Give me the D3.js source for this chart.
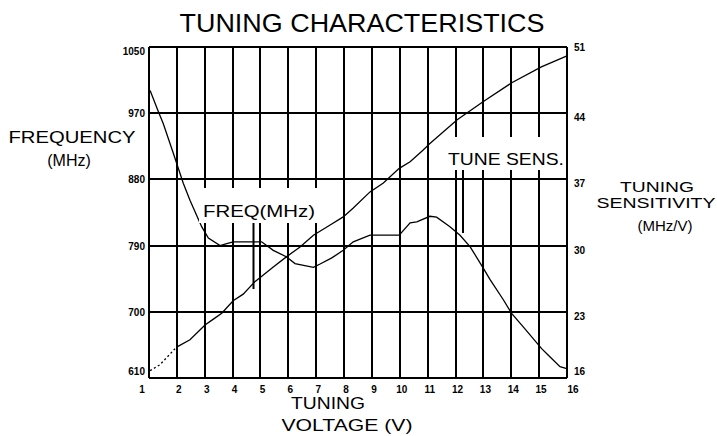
<!DOCTYPE html>
<html>
<head>
<meta charset="utf-8">
<script src="https://cdn.jsdelivr.net/npm/d3@7"></script>
<style>
  body { margin: 0; background: #fff; }
  svg { display: block; font-family: "Liberation Sans", Arial, sans-serif; }
  .grid line, .grid path { stroke: #000; stroke-width: 2; shape-rendering: crispEdges; }
  .tick-lbl { font-size: 10px; font-weight: bold; fill: #000; }
  .curve { fill: none; stroke: #000; stroke-width: 1.3; }
</style>
</head>
<body>
<svg id="chart" width="717" height="436"></svg>
<script>
// ---- data ----
const voltTicks = [1,2,3,4,5,6,7,8,9,10,11,12,13,14,15,16];
const freqTicks = [610,700,790,880,970,1060];
const freqTickLabels = ["610","700","790","880","970","1050"];
const sensTicks = [16,23,30,37,44,51];

// frequency (MHz) vs tuning voltage
const freqV = [1.04,1.39,1.99,2.47,3.01,3.31,3.61,4.02,4.38,4.80,5.46,5.94,6.42,6.90,7.50,7.97,8.33,8.93,9.41,9.98,10.37,10.84,11.06,12.06,13.0,14.0,15.08,16.0];
const freqMHz = [620,628,652,662,682,690,698,715,724,741,761,775,788,804,818,829,841,863,875,895,904,920,928,961,986,1011,1033,1048];

// tuning sensitivity (MHz/V) vs tuning voltage
const sensV = [1.04,1.33,1.51,1.87,2.23,2.47,2.89,3.13,3.55,3.79,4.02,5.04,5.46,5.94,6.24,6.90,7.14,7.56,7.97,8.33,8.93,9.98,10.37,10.61,11.08,11.32,11.80,12.16,12.52,13.0,13.24,13.71,14.02,14.43,15.09,15.33,15.75,15.99];
const sensVal = [46.4,44.2,42.9,39.8,36.6,34.8,32.0,30.8,30.0,30.2,30.4,30.4,29.5,28.8,28.1,27.7,28.05,28.7,29.5,30.4,31.1,31.1,32.4,32.5,33.1,33.0,32.0,31.1,29.9,27.6,26.4,24.3,22.8,21.4,19.1,18.4,17.2,17.0];

// ---- layout ----
const svg = d3.select("#chart");
const L = 149, R = 567, T = 47, B = 378;

const x = d3.scaleLinear().domain([1,16]).range([L,R]);
const yF = d3.scaleLinear().domain([610,1060]).range([B,T]);
const yS = d3.scaleLinear().domain([16,51]).range([B,T]);

// grid
const grid = svg.append("g").attr("class","grid");
grid.selectAll("line.v").data(voltTicks).join("line")
  .attr("class","v")
  .attr("x1",d=>x(d)).attr("x2",d=>x(d)).attr("y1",T).attr("y2",B);
grid.selectAll("line.h").data(freqTicks).join("line")
  .attr("class","h")
  .attr("x1",L).attr("x2",R).attr("y1",d=>yF(d)).attr("y2",d=>yF(d));

// curves
const fIdx = freqV.map((d,i)=>i);
const dotN = 3; // first part of the freq trace is dotted
const fLine = d3.line().x(i=>x(freqV[i])).y(i=>yF(freqMHz[i]));
svg.append("path").attr("class","curve")
  .attr("stroke-dasharray","2,2.5")
  .attr("d", fLine(fIdx.slice(0, dotN)));
svg.append("path").attr("class","curve")
  .attr("d", fLine(fIdx.slice(dotN-1)));
svg.append("path").attr("class","curve")
  .attr("d", d3.line().x(i=>x(sensV[i])).y(i=>yS(sensVal[i]))(sensV.map((d,i)=>i)));

// label boxes (cover the grid)
svg.append("rect").attr("x",199).attr("y",188).attr("width",122).attr("height",35).attr("fill","#fff");
svg.append("rect").attr("x",445).attr("y",137).attr("width",120).attr("height",33).attr("fill","#fff");

svg.append("text").attr("x",203).attr("y",217).attr("font-size",17)
  .attr("textLength",112).attr("lengthAdjust","spacingAndGlyphs").text("FREQ(MHz)");
svg.append("text").attr("x",448).attr("y",165).attr("font-size",17)
  .attr("textLength",116).attr("lengthAdjust","spacingAndGlyphs").text("TUNE SENS.");

// leaders
svg.append("line").attr("x1",253.5).attr("x2",253.5).attr("y1",223).attr("y2",289)
  .attr("stroke","#000").attr("stroke-width",2);
svg.append("line").attr("x1",463).attr("x2",463).attr("y1",170).attr("y2",233)
  .attr("stroke","#000").attr("stroke-width",2);

// axes tick labels
const last = (arr) => arr.length - 1;
svg.append("g").selectAll("text").data(freqTicks).join("text")
  .attr("class","tick-lbl").attr("text-anchor","end")
  .attr("x",145)
  .attr("y",(d,i)=>yF(d) + (i===0 ? -3 : i===last(freqTicks) ? 8 : 4))
  .text((d,i)=>freqTickLabels[i]);
svg.append("g").selectAll("text").data(sensTicks).join("text")
  .attr("class","tick-lbl").attr("text-anchor","start")
  .attr("x",574)
  .attr("y",(d,i)=>yS(d) + (i===0 ? -3 : i===last(sensTicks) ? 4 : 8))
  .text(d=>d);
svg.append("g").selectAll("text").data(voltTicks).join("text")
  .attr("class","tick-lbl").attr("text-anchor","middle")
  .attr("x",(d,i)=>x(d) + (i===0 ? -7 : i===last(voltTicks) ? 6 : 2))
  .attr("y",393)
  .text(d=>d);

// titles
svg.append("text").attr("x",362).attr("y",32).attr("text-anchor","middle")
  .attr("font-size",26).attr("textLength",365).attr("lengthAdjust","spacingAndGlyphs")
  .text("TUNING CHARACTERISTICS");
svg.append("text").attr("x",72).attr("y",143).attr("text-anchor","middle")
  .attr("font-size",16).attr("textLength",127).attr("lengthAdjust","spacingAndGlyphs").text("FREQUENCY");
svg.append("text").attr("x",69).attr("y",166).attr("text-anchor","middle")
  .attr("font-size",16).text("(MHz)");
svg.append("text").attr("x",328).attr("y",409).attr("text-anchor","middle")
  .attr("font-size",16).attr("textLength",74).attr("lengthAdjust","spacingAndGlyphs").text("TUNING");
svg.append("text").attr("x",347).attr("y",431).attr("text-anchor","middle")
  .attr("font-size",16).attr("textLength",131).attr("lengthAdjust","spacingAndGlyphs").text("VOLTAGE (V)");
svg.append("text").attr("x",657).attr("y",192).attr("text-anchor","middle")
  .attr("font-size",14).attr("textLength",74).attr("lengthAdjust","spacingAndGlyphs").text("TUNING");
svg.append("text").attr("x",656).attr("y",208).attr("text-anchor","middle")
  .attr("font-size",14).attr("textLength",119).attr("lengthAdjust","spacingAndGlyphs").text("SENSITIVITY");
svg.append("text").attr("x",665).attr("y",231).attr("text-anchor","middle")
  .attr("font-size",15).text("(MHz/V)");
</script>
</body>
</html>
